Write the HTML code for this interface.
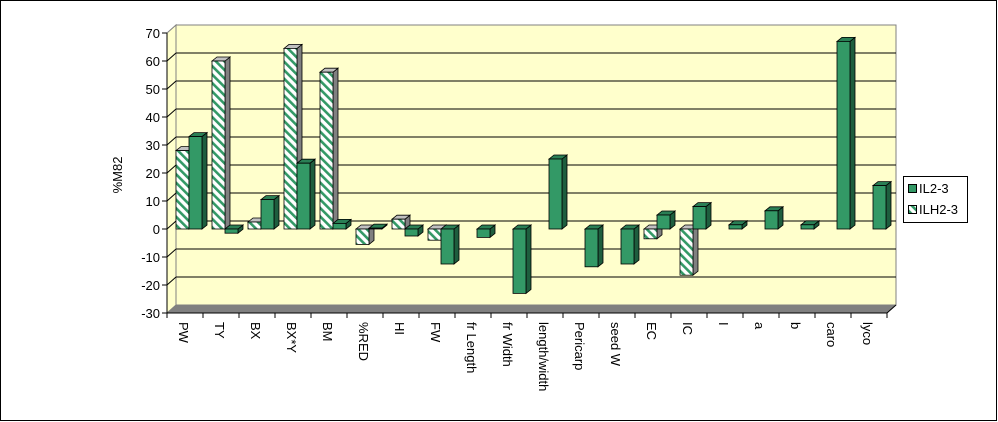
<!DOCTYPE html>
<html><head><meta charset="utf-8"><style>
body{margin:0;background:#fff;}
svg{display:block;font-family:"Liberation Sans",sans-serif;}
</style></head><body>
<svg id="c" width="998" height="422" viewBox="0 0 998 422">
<defs>
<pattern id="hatch" patternUnits="userSpaceOnUse" width="6" height="6" patternTransform="rotate(-45)">
<rect width="6" height="6" fill="#fff"/><rect x="0" y="0" width="2.6" height="6" fill="#339966"/>
</pattern>
</defs>
<rect x="0.5" y="0.5" width="996" height="420" fill="#fff" stroke="#000"/>
<g id="plot"></g>
<text transform="translate(122,175) rotate(-90)" text-anchor="middle" font-size="13">%M82</text>
<g>
<rect x="903.5" y="176.5" width="64" height="46" fill="#fff" stroke="#000"/>
<g><rect x="908.5" y="184.5" width="8" height="8" fill="#339966" stroke="#000"/><text x="919" y="193" font-size="13">IL2-3</text></g>
<g><rect x="908.5" y="205.5" width="8" height="8" fill="url(#hatch)" stroke="#000"/><text x="919" y="214" font-size="13">ILH2-3</text></g>
</g>
</svg>
<script>
const categories=["PW","TY","BX","BX*Y","BM","%RED","HI","FW","fr Length","fr Width","length/width","Pericarp","seed W","EC","IC","I","a","b","caro","lyco"];
const il2=[33,-1.5,10.5,23.5,2,0.3,-2.5,-12.5,-3,-23,25,-13.5,-12.5,5,8,1.5,6.5,1.5,67,15.5];
const ilh=[28,60,2.5,64.5,56,-5.5,3.5,-4,null,null,null,null,null,-3.5,-16.5,null,null,null,null,null];
const yTicks=[70,60,50,40,30,20,10,0,-10,-20,-30];
const NS="http://www.w3.org/2000/svg";
const g=document.getElementById('plot');
const X0=167,X1=887,DX=9,DY=-8;
const y=v=>229-(v)*2.8;
const xc=i=>X0+(i+0.5)*(X1-X0)/categories.length;
function mk(t,a,p){const e=document.createElementNS(NS,t);for(const k in a)e.setAttribute(k,a[k]);(p||g).appendChild(e);return e;}
let e=mk('polygon',{points:`${X0},${y(-30)} ${X0+DX},${y(-30)+DY} ${X0+DX},${y(70)+DY} ${X0},${y(70)}`,fill:'#ffffcc',stroke:'#808080'});

e=mk('rect',{x:X0+DX,y:y(70)+DY,width:X1-X0,height:280,fill:'#ffffcc',stroke:'#808080'});

e=mk('polygon',{points:`${X0},${y(-30)} ${X1},${y(-30)} ${X1+DX},${y(-30)+DY} ${X0+DX},${y(-30)+DY}`,fill:'#808080'});

yTicks.forEach(v=>{
 if(v>-30&&v<70){const l=mk('line',{x1:X0,y1:y(v),x2:X0+DX,y2:y(v)+DY,stroke:'#000'});
 const l2=mk('line',{x1:X0+DX,y1:y(v)+DY,x2:X1+DX,y2:y(v)+DY,stroke:'#000'});}
 const t=mk('line',{x1:X0-5,y1:y(v),x2:X0,y2:y(v),stroke:'#000'});
 const tx=mk('text',{x:X0-7,y:y(v)+5,'text-anchor':'end','font-size':13});tx.textContent=v;
 
});
e=mk('line',{x1:X0,y1:y(70),x2:X0,y2:y(-30),stroke:'#000'});
e=mk('line',{x1:X0,y1:y(-30),x2:X1,y2:y(-30),stroke:'#000'});
const step=(X1-X0)/categories.length;
for(let i=0;i<=categories.length;i++){const t=mk('line',{x1:X0+i*step,y1:y(-30),x2:X0+i*step,y2:y(-30)+5,stroke:'#000'});}
e=mk('line',{x1:X1,y1:y(-30),x2:X1+DX,y2:y(-30)+DY,stroke:'#000'});
function bar(xl,v,fill,side,top,name){
 const w=13,d=5,dd=-4;const grp=mk('g',{});
 
 const y1=Math.min(y(0),y(v)),y2=Math.max(y(0),y(v));
 mk('polygon',{points:`${xl+w},${y1} ${xl+w+d},${y1+dd} ${xl+w+d},${y2+dd} ${xl+w},${y2}`,fill:side,stroke:'#000','stroke-width':0.8},grp);
 mk('polygon',{points:`${xl},${y1} ${xl+d},${y1+dd} ${xl+w+d},${y1+dd} ${xl+w},${y1}`,fill:top,stroke:'#000','stroke-width':0.8},grp);
 mk('rect',{x:xl,y:y1,width:w,height:Math.max(y2-y1,0.5),fill:fill,stroke:'#000','stroke-width':0.8},grp);
}
categories.forEach((c,i)=>{
 const cx=xc(i)+4;
 if(ilh[i]!==null)bar(cx-13,ilh[i],'url(#hatch)','#808080','#c0c0c0','bar-ilh2-3-'+i);
 if(il2[i]!==null)bar(cx,il2[i],'#339966','#1e5e3e','#2a7f55','bar-il2-3-'+i);
 const t=mk('text',{transform:`translate(${xc(i)-6},${y(-30)+9}) rotate(90)`,'font-size':13});
 t.textContent=c;
});
</script>
</body></html>
